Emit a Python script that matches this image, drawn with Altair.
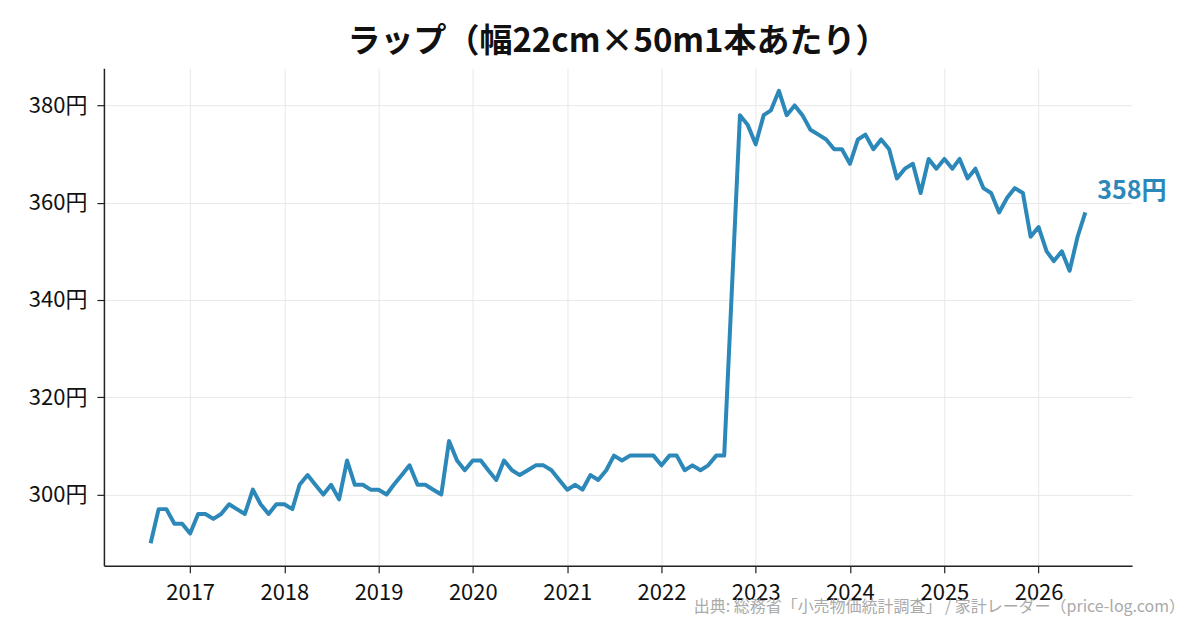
import altair as alt
import pandas as pd

# ===========================
# DATA: ラップ 月次価格（円）
# ===========================
TITLE = "ラップ（幅22cm×50m1本あたり）"
SOURCE = "出典: 総務省「小売物価統計調査」 / 家計レーダー（price-log.com）"
BLUE = "#2c88b9"

y2016 = [290, 297, 297, 294, 294]  # 8月〜12月
y2017 = [292, 296, 296, 295, 296, 298, 297, 296, 301, 298, 296, 298]
y2018 = [298, 297, 302, 304, 302, 300, 302, 299, 307, 302, 302, 301]
y2019 = [301, 300, 302, 304, 306, 302, 302, 301, 300, 311, 307, 305]
y2020 = [307, 307, 305, 303, 307, 305, 304, 305, 306, 306, 305, 303]
y2021 = [301, 302, 301, 304, 303, 305, 308, 307, 308, 308, 308, 308]
y2022 = [306, 308, 308, 305, 306, 305, 306, 308, 308, 378, 376]  # 10月欠測
y2023 = [372, 378, 379, 383, 378, 380, 378, 375, 374, 373, 371, 371]
y2024 = [368, 373, 374, 371, 373, 371, 365, 367, 368, 362, 369, 367]
y2025 = [369, 367, 369, 365, 367, 363, 362, 358, 361, 363, 362, 353]
y2026 = [355, 350, 348, 350, 346, 353, 358]  # 1月〜7月

prices = y2016 + y2017 + y2018 + y2019 + y2020 + y2021 + y2022 + y2023 + y2024 + y2025 + y2026
months = [
    d.strftime("%Y-%m-01")
    for d in pd.date_range("2016-08-01", "2026-07-01", freq="MS")
    if d.strftime("%Y-%m") != "2022-10"
]

df = pd.DataFrame({"date": months, "price": prices})
df["label"] = df["price"].astype(str) + "円"

x_domain = [
    alt.DateTime(year=2016, month=2, date=2, utc=True),
    alt.DateTime(year=2026, month=12, date=29, utc=True),
]
x_ticks = [alt.DateTime(year=y, month=1, date=1, utc=True) for y in range(2017, 2027)]

x_enc = alt.X(
    "date:T",
    scale=alt.Scale(type="utc", domain=x_domain),
    axis=alt.Axis(values=x_ticks, format="%Y", formatType="utc", title=None, labelPadding=10),
)
y_enc = alt.Y(
    "price:Q",
    scale=alt.Scale(domain=[285.35, 387.65], nice=False, zero=False),
    axis=alt.Axis(values=[300, 320, 340, 360, 380], labelExpr="datum.value + '円'",
                  title=None, labelPadding=10),
)

# linha principal
line = alt.Chart(df).mark_line(color=BLUE, strokeWidth=4, strokeJoin="round").encode(
    x=x_enc,
    y=y_enc,
)

# rótulo do último valor
last_label = alt.Chart(df.tail(1)).mark_text(
    align="left", baseline="middle", dx=12, dy=-21,
    fontSize=25, fontWeight="bold", color=BLUE,
).encode(x="date:T", y="price:Q", text="label:N")

# fonte dos dados (canto inferior direito)
source = alt.Chart(pd.DataFrame({"t": [SOURCE]})).mark_text(
    align="right", baseline="middle", fontSize=16, color="#aaaaaa",
).encode(x=alt.value(1082), y=alt.value(539), text="t:N")

chart = alt.layer(line, last_label, source).properties(
    width=1029,
    height=498,
    autosize=alt.AutoSizeParams(type="none"),
    padding={"left": 96, "top": 60, "right": 60, "bottom": 60},
    title=alt.Title(TITLE, fontSize=33, fontWeight="bold", anchor="middle",
                    frame="group", offset=9, color="#111111"),
).configure(
    font="Noto Sans CJK JP",
).configure_view(
    stroke=None,
).configure_axis(
    domainColor="#222222",
    domainWidth=1.5,
    tickColor="#222222",
    tickWidth=1.2,
    tickSize=7,
    labelFontSize=22,
    labelColor="#111111",
    gridColor="#e8e8e8",
    gridWidth=1,
)

chart.save("out.html", embed_options={"renderer": "svg", "actions": False})
